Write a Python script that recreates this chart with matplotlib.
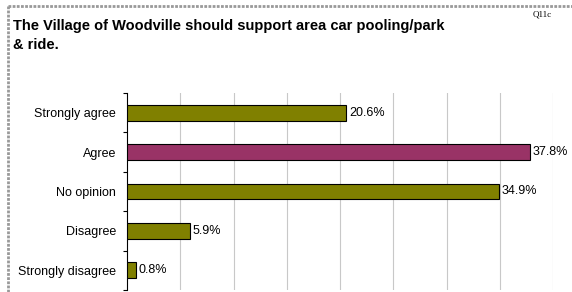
import matplotlib.pyplot as plt

categories = ["Strongly agree", "Agree", "No opinion", "Disagree", "Strongly disagree"]
values = [20.6, 37.8, 34.9, 5.9, 0.8]
colors = ["#808000", "#993366", "#808000", "#808000", "#808000"]

plt.rcParams["font.family"] = ["Liberation Sans", "DejaVu Sans"]

fig = plt.figure(figsize=(5.72, 2.92), dpi=100)
W, H = 572, 292
ax = fig.add_axes([127 / W, 1 - 290 / H, (553 - 127) / W, (290 - 93) / H])

y = list(range(len(categories)))
ax.barh(y, values, height=0.4, color=colors, edgecolor="black", linewidth=0.8, zorder=3)
for yi, v in zip(y, values):
    ax.annotate(f"{v:.1f}%", (v, yi), xytext=(2, 0), textcoords="offset points",
                va="center", ha="left", fontsize=9)

ax.set_xlim(0, 40)
ax.set_ylim(len(categories) - 0.5, -0.5)
ax.set_xticks(range(5, 45, 5))
ax.xaxis.grid(True, color="#c8c8c8", linewidth=0.8)
ax.tick_params(axis="x", length=0, labelbottom=False)
ax.set_yticks(y)
ax.set_yticklabels(categories, fontsize=9)
ax.set_yticks([i - 0.5 for i in range(len(categories) + 1)], minor=True)
ax.tick_params(axis="y", which="major", length=0, pad=8)
ax.tick_params(axis="y", which="minor", length=3, width=0.8, direction="out")
for s in ["top", "right", "bottom"]:
    ax.spines[s].set_visible(False)
ax.spines["left"].set_linewidth(0.8)

fig.text(13 / W, 1 - 19 / H, "The Village of Woodville should support area car pooling/park\n& ride.",
         fontsize=10.5, fontweight="bold", va="top", ha="left", linespacing=1.45)
fig.text(542 / W, 1 - 15 / H, "Q11c", fontsize=6.5, family="Liberation Serif", ha="center", va="center")

# dotted chart frame (left and top edges)
fig.add_artist(plt.Line2D([7.5 / W, 7.5 / W], [0, 1 - 6 / H], transform=fig.transFigure,
                          color="#999999", linewidth=2, linestyle=(0, (1, 0.5))))
fig.add_artist(plt.Line2D([7.5 / W, 1], [1 - 6 / H, 1 - 6 / H], transform=fig.transFigure,
                          color="#999999", linewidth=2, linestyle=(0, (1, 0.5))))

fig.savefig("out.png", dpi=100)
